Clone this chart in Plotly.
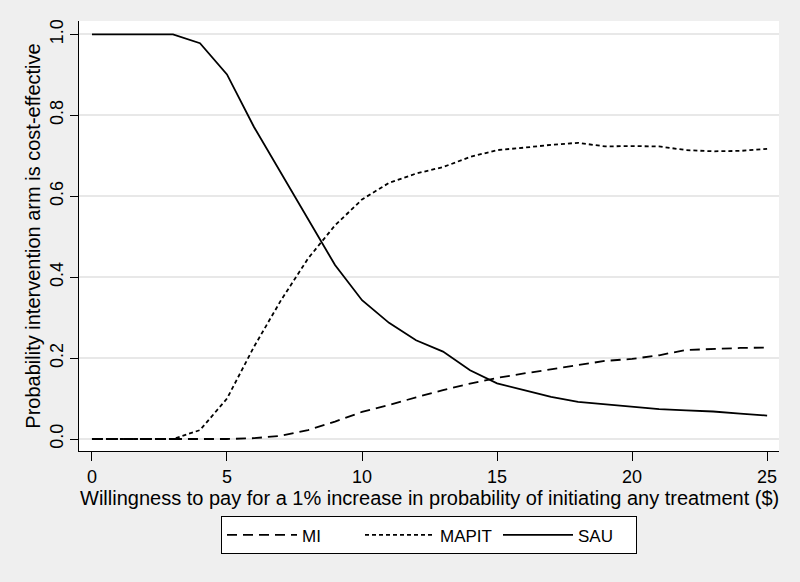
import plotly.graph_objects as go

wtp = list(range(0, 26))
mi = [0.0, 0.0, 0.0, 0.0, 0.0, 0.0, 0.002, 0.008, 0.022, 0.043, 0.067, 0.084, 0.103,
      0.121, 0.137, 0.151, 0.162, 0.172, 0.183, 0.193, 0.198, 0.207, 0.220, 0.223, 0.225, 0.226]
mapit = [0.0, 0.0, 0.0, 0.0, 0.022, 0.100, 0.228, 0.343, 0.446, 0.528, 0.592, 0.633, 0.656,
         0.672, 0.697, 0.714, 0.720, 0.727, 0.732, 0.723, 0.724, 0.723, 0.714, 0.711, 0.712, 0.717]
sau = [1.0, 1.0, 1.0, 1.0, 0.978, 0.901, 0.771, 0.657, 0.542, 0.430, 0.343, 0.287, 0.244,
       0.216, 0.170, 0.1375, 0.121, 0.104, 0.092, 0.086, 0.080, 0.074, 0.071, 0.068, 0.063, 0.058]

x_ticks = [0, 5, 10, 15, 20, 25]
y_ticks = [0.0, 0.2, 0.4, 0.6, 0.8, 1.0]
y_tick_labels = ["0.0", "0.2", "0.4", "0.6", "0.8", "1.0"]
x_title = "Willingness to pay for a 1% increase in probability of initiating any treatment ($)"
y_title = "Probability intervention arm is cost-effective"

FONT = "Arial, 'Liberation Sans', sans-serif"
BG = "#efefef"

fig = go.Figure()
fig.add_trace(go.Scatter(x=wtp, y=mi, mode="lines", name="MI",
                         line=dict(color="black", width=1.8, dash="10px,6px")))
fig.add_trace(go.Scatter(x=wtp, y=mapit, mode="lines", name="MAPIT",
                         line=dict(color="black", width=1.8, dash="4px,3px")))
fig.add_trace(go.Scatter(x=wtp, y=sau, mode="lines", name="SAU",
                         line=dict(color="black", width=1.8)))

fig.add_annotation(text=x_title, xref="paper", yref="paper", x=0.5, y=-0.109,
                   xanchor="center", yanchor="middle", showarrow=False,
                   font=dict(size=20, family=FONT, color="black"))

fig.update_layout(
    width=800, height=582,
    margin=dict(l=79, r=21, t=21, b=131, autoexpand=False),
    paper_bgcolor=BG,
    plot_bgcolor="white",
    font=dict(family=FONT, size=18, color="black"),
    showlegend=True,
    legend=dict(
        orientation="h", x=0.5, xanchor="center", y=-0.152, yanchor="top",
        bgcolor="white", bordercolor="black", borderwidth=1,
        itemwidth=70, entrywidth=53, font=dict(size=17),
        traceorder="normal",
    ),
    xaxis=dict(
        range=[-0.48, 25.44], tickvals=x_ticks, ticks="outside", ticklen=9,
        tickcolor="black", showline=True, linecolor="black", linewidth=1,
        showgrid=False, zeroline=False, automargin=False,
        tickfont=dict(size=18),
    ),
    yaxis=dict(
        range=[-0.0296, 1.033], tickvals=y_ticks, ticktext=y_tick_labels,
        tickangle=-90, ticks="outside", ticklen=8, tickcolor="black",
        showline=True, linecolor="black", linewidth=1,
        showgrid=True, gridcolor="#e8e8e8", gridwidth=1.5, zeroline=False,
        automargin=False, tickfont=dict(size=18),
        title=dict(text=y_title, standoff=0, font=dict(size=20)),
    ),
)

fig.write_html(
    "out.html",
    config={"displayModeBar": False},
    post_script=f"document.body.style.margin='0';document.body.style.background='{BG}';",
)
